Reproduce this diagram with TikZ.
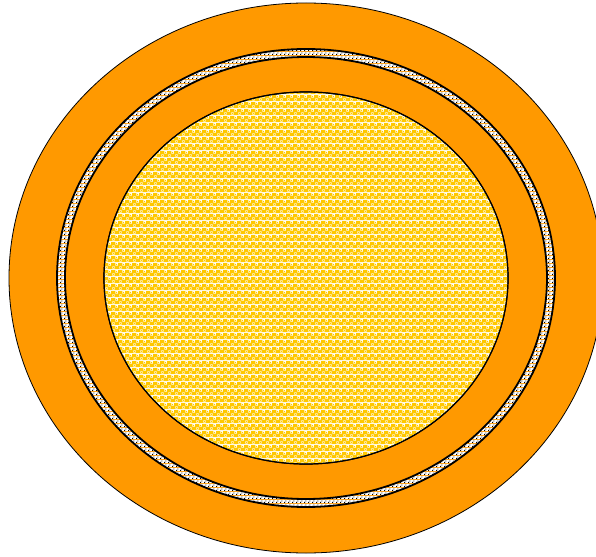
\documentclass[tikz,border=0pt]{standalone}
\usetikzlibrary{patterns.meta}
\definecolor{orng}{HTML}{FF9900}
\definecolor{yel}{HTML}{FFC800}
\tikzdeclarepattern{
  name=yeldots, type=colored,
  bounding box={(0pt,0pt) and (7pt,7pt)},
  tile size={(7pt,7pt)},
  code={
    \fill[yel] (0pt,0pt) rectangle (7pt,7pt);
    \fill[white] (0.4pt,0.4pt) rectangle (3.1pt,3.1pt);
    \fill[white] (3.9pt,3.9pt) rectangle (6.6pt,6.6pt);
    \fill[yel] (1.75pt,1.75pt) circle (0.85pt);
    \fill[yel] (5.25pt,5.25pt) circle (0.85pt);
  }}
\tikzdeclarepattern{
  name=braid, type=colored,
  bounding box={(0pt,0pt) and (3.5pt,3.5pt)},
  tile size={(3.5pt,3.5pt)},
  code={
    \fill[white] (0pt,0pt) rectangle (3.5pt,3.5pt);
    \fill[black] (0pt,0pt) rectangle (1.2pt,1.2pt);
    \fill[black] (1.7pt,1.8pt) rectangle (2.8pt,2.8pt);
  }}
\tikzset{
  jacket/.style={fill=orng, draw=black, line width=0.8pt},
  shield/.style={pattern={braid}, draw=black, line width=1.8pt},
  insul/.style={fill=orng, draw=black, line width=1.8pt},
  core/.style={fill=white, draw=black, line width=1.2pt},
  coredots/.style={pattern={yeldots}},
}
\begin{document}
\begin{tikzpicture}[x=1pt,y=-1pt]
\useasboundingbox (0,0) rectangle (596,556);
\clip (0,0) rectangle (596,556);
\coordinate (c) at (306,278);
\draw[jacket] (c) ellipse [x radius=297, y radius=275];
\draw[shield] (c) ellipse [x radius=249, y radius=229];
\draw[insul] (c) ellipse [x radius=241, y radius=221];
\draw[core] (c) ellipse [x radius=202, y radius=186];
\fill[coredots] (c) ellipse [x radius=201.4, y radius=185.4];
\draw[black, line width=1.2pt] (c) ellipse [x radius=202, y radius=186];
\end{tikzpicture}
\end{document}
